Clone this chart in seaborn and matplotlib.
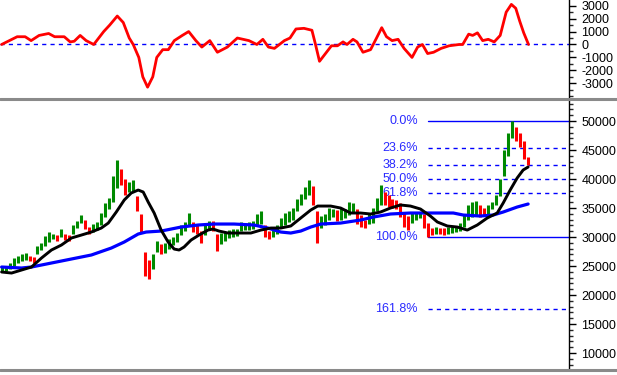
import numpy as np
import matplotlib
matplotlib.use("Agg")
import matplotlib.pyplot as plt
from matplotlib.lines import Line2D
from matplotlib.ticker import MultipleLocator, FixedLocator, FuncFormatter
import seaborn as sns

# ==============================
# Data
# ==============================
# daily price bars, thousands
bar_lo = [24.0, 24.2, 24.5, 25.0, 25.5, 25.8, 26.0, 25.8, 25.5, 27.0,
          27.8, 28.5, 29.2, 29.6, 29.4, 30.0, 29.5, 29.3, 30.5, 31.5,
          32.5, 31.3, 30.5, 30.8, 31.2, 32.0, 33.5, 34.8, 36.0, 38.5,
          39.0, 37.2, 37.8, 38.0, 34.5, 30.9, 23.2, 22.8, 24.5, 27.5,
          27.0, 27.3, 28.0, 28.6, 29.2, 30.4, 31.0, 31.9, 30.8, 30.5,
          29.0, 30.3, 31.2, 31.0, 27.6, 28.8, 29.4, 29.8, 30.0, 30.2,
          31.0, 31.2, 31.2, 31.4, 32.0, 32.2, 30.0, 29.6, 30.0, 30.6,
          31.5, 32.0, 32.6, 33.0, 34.5, 35.5, 36.5, 37.2, 35.5, 29.0,
          31.5, 32.0, 33.0, 33.4, 32.8, 33.0, 33.2, 33.8, 34.2, 32.3,
          31.8, 31.5, 32.2, 32.5, 34.5, 35.5, 35.5, 35.2, 35.0, 34.8,
          33.5, 31.8, 31.2, 32.4, 33.0, 33.2, 31.5, 30.0, 30.3, 30.5,
          30.6, 30.4, 30.6, 30.7, 30.8, 31.0, 31.8, 33.0, 33.5, 33.8,
          33.5, 33.8, 34.0, 34.8, 35.5, 37.0, 40.5, 44.0, 47.0, 46.5,
          45.5, 43.5, 42.5]
bar_hi = [24.8, 25.0, 25.5, 26.3, 26.8, 27.0, 27.2, 26.8, 26.6, 28.4,
          29.0, 30.2, 30.8, 30.6, 30.4, 31.4, 30.6, 30.3, 32.0, 32.8,
          33.8, 33.0, 31.8, 32.2, 32.6, 34.2, 35.8, 36.7, 40.5, 43.2,
          41.7, 40.0, 39.5, 39.8, 37.0, 34.0, 27.5, 26.0, 27.0, 29.3,
          28.8, 28.9, 29.6, 30.0, 30.7, 32.1, 32.6, 34.2, 32.6, 32.0,
          31.0, 32.2, 32.8, 32.8, 30.5, 30.7, 30.8, 31.2, 31.4, 31.4,
          32.6, 32.4, 32.6, 32.8, 34.0, 34.5, 32.0, 31.0, 31.4, 32.0,
          33.2, 34.2, 34.5, 35.0, 36.5, 37.5, 38.6, 39.8, 38.8, 34.5,
          33.7, 34.0, 35.0, 34.8, 34.6, 35.0, 34.8, 36.0, 35.8, 34.8,
          33.8, 33.0, 34.0, 35.0, 36.8, 39.0, 37.8, 37.2, 36.5, 36.4,
          35.8, 34.2, 33.6, 34.2, 34.3, 34.4, 34.0, 32.5, 31.6, 31.8,
          31.6, 31.5, 31.7, 31.8, 31.9, 32.5, 34.0, 35.5, 36.0, 36.2,
          35.5, 35.0, 35.6, 36.0, 37.2, 40.0, 45.0, 48.0, 50.0, 49.0,
          48.0, 46.5, 43.8]

# black (short) moving average
ma_fast_day = [0, 2.5, 5, 7.5, 10, 12.5, 15, 17.5, 20, 22.5,
               25, 26.75, 28.75, 30.75, 32.5, 34.25, 35.5, 36.75, 38.25, 40,
               41.75, 43.25, 44.5, 45.75, 47.5, 49.5, 51.75, 53, 54.5, 56.75,
               59.25, 62.5, 65, 67.5, 70, 72.5, 75, 77.5, 79.25, 82.5,
               85, 87.5, 90, 92.5, 95, 97.5, 100, 102.5, 105, 107.5,
               109.25, 111.75, 114.25, 116.75, 119.25, 121.75, 124.25, 125.75, 127.5, 129.25,
               130.75, 132]
ma_fast_val = [23.97, 23.79, 24.31, 24.83, 26.38, 27.76, 28.62, 29.83, 30.34, 30.86,
               31.55, 32.41, 34.31, 36.38, 37.59, 38.1, 37.76, 36.03, 34.14, 31.2,
               29.14, 27.93, 27.76, 28.28, 29.48, 30.34, 31.2, 31.38, 31.03, 30.69,
               30.69, 30.69, 31.2, 31.55, 31.55, 31.9, 33.28, 34.65, 35.34, 35.34,
               35.0, 34.14, 34.14, 33.97, 34.31, 35.0, 35.52, 35.34, 34.83, 33.62,
               32.59, 31.9, 31.72, 31.2, 32.07, 33.28, 34.14, 35.86, 38.1, 40.17,
               41.55, 42.07]

# blue (long) moving average
ma_slow_day = [0, 5, 7.5, 12.5, 17.5, 22.5, 27.5, 30.75, 34.25, 36.25,
               40, 45, 49.25, 53.25, 58.25, 63.25, 66.75, 70, 72.5, 75,
               77.5, 80, 85, 90, 93.25, 97.5, 102.5, 109.25, 113.25, 115.75,
               120, 123.25, 125.75, 129.25, 132]
ma_slow_val = [24.83, 24.66, 24.83, 25.52, 26.21, 26.9, 28.1, 29.14, 30.52, 30.86,
               31.03, 31.72, 32.07, 32.24, 32.24, 32.07, 31.55, 30.86, 30.69, 31.03,
               31.72, 32.24, 32.41, 32.93, 33.45, 33.97, 34.14, 34.14, 34.14, 33.79,
               33.62, 33.79, 34.31, 35.17, 35.69]

# oscillator (top panel)
osc_day = [0, 3.9, 5.9, 7.4, 9.4, 11.8, 13.3, 15.7, 17.2, 18.2,
           19.7, 21.2, 23.1, 25.6, 27.1, 29.0, 30.5, 32.0, 33.0, 34.4,
           35.4, 36.6, 37.9, 38.9, 40.4, 41.8, 43.3, 45.3, 46.9, 48.7,
           50.2, 52.2, 54.1, 56.6, 59.1, 62.0, 64.0, 65.5, 66.9, 68.4,
           70.9, 72.3, 73.8, 75.8, 77.8, 78.7, 79.7, 81.2, 82.7, 84.2,
           85.6, 86.6, 88.1, 89.1, 90.6, 92.5, 94.0, 95.3, 96.5, 97.9,
           99.4, 100.9, 102.9, 104.3, 105.5, 106.8, 108.3, 110.2, 112.2, 114.7,
           115.6, 117.1, 118.1, 119.3, 120.6, 122.0, 123.5, 125.0, 126.5, 127.8,
           128.9, 129.9, 130.9, 132.1]
osc_val = [0, 600, 600, 300, 700, 850, 600, 600, 200, 250,
           700, 300, 0, 1000, 1500, 2200, 1700, 500, 0, -1000,
           -2500, -3300, -2500, -1000, -400, -400, 300, 700, 1000, 300,
           -200, 300, -600, -200, 500, 300, 0, 400, -200, -300,
           300, 500, 1200, 1250, 1100, 0, -1300, -700, -100, -100,
           200, 0, 400, 200, -600, -400, 500, 1300, 600, 300,
           400, -300, -1000, -200, 0, -700, -600, -300, -100, 0,
           0, 800, 700, 900, 300, 400, 200, 700, 2500, 3100,
           2800, 1800, 900, 0]
osc_ticks = [-3000, -2000, -1000, 0, 1000, 2000, 3000]

# fibonacci retracement levels
fib_labels = ["0.0%", "23.6%", "38.2%", "50.0%", "61.8%", "100.0%", "161.8%"]
fib_levels = [50000, 45280, 42360, 40000, 37640, 30000, 17640]
fib_dashed = [False, True, True, True, True, False, True]
fib_start_day = 107

# ==============================
# Style
# ==============================
sns.set_style("white")
plt.rcParams["font.family"] = ["Liberation Sans", "DejaVu Sans"]
plt.rcParams["axes.unicode_minus"] = False

GREEN = "#008a00"
RED = "#ff0000"
BLUE = "#0000ff"
FIB_TXT = "#2a2aff"
X_MAX = 142.25

fig = plt.figure(figsize=(6.17, 3.75), dpi=100)
ax_osc = fig.add_axes([0, 1 - 97 / 375, 569 / 617, 97 / 375])
ax_px = fig.add_axes([0, 7 / 375, 569 / 617, 267 / 375])

int_fmt = FuncFormatter(lambda v, p: f"{int(round(v))}")
for ax in (ax_osc, ax_px):
    ax.set_xlim(-0.4, X_MAX)
    for side in ("left", "top", "bottom"):
        ax.spines[side].set_visible(False)
    ax.spines["right"].set_color("black")
    ax.spines["right"].set_linewidth(1)
    ax.yaxis.tick_right()
    ax.set_xticks([])
    ax.yaxis.set_major_formatter(int_fmt)
    ax.tick_params(axis="y", which="major", length=5, width=1, pad=4,
                   labelsize=9, colors="black", direction="out")
    ax.tick_params(axis="y", which="minor", length=3, width=1, direction="out")
    ax.set_facecolor("white")

# ==============================
# Top: oscillator
# ==============================
ax_osc.axhline(0, color=BLUE, lw=1, ls=(0, (3, 3)), zorder=1)
sns.lineplot(x=osc_day, y=osc_val, ax=ax_osc, color=RED, linewidth=2.0,
             sort=False, zorder=3)
ax_osc.set_ylim(-4060, 3440)
ax_osc.yaxis.set_major_locator(FixedLocator(osc_ticks))
ax_osc.yaxis.set_minor_locator(MultipleLocator(500))
ax_osc.set_ylabel("")

# ==============================
# Bottom: price bars, MAs, fib levels
# ==============================
lo = np.array(bar_lo) * 1000
hi = np.array(bar_hi) * 1000
day = np.arange(len(lo))
mid = (lo + hi) / 2
cols = [GREEN] + [GREEN if mid[i] >= mid[i - 1] else RED for i in range(1, len(mid))]
ax_px.vlines(day, lo, hi, colors=cols, linewidth=2.2, zorder=3)

sns.lineplot(x=ma_slow_day, y=np.array(ma_slow_val) * 1000, ax=ax_px,
             color=BLUE, linewidth=2.3, zorder=4)
sns.lineplot(x=ma_fast_day, y=np.array(ma_fast_val) * 1000, ax=ax_px,
             color="black", linewidth=2.1, zorder=4)

for lab, lvl, dashed in zip(fib_labels, fib_levels, fib_dashed):
    ax_px.plot([fib_start_day, X_MAX], [lvl, lvl], color=BLUE, lw=1,
               ls=(0, (3, 3)) if dashed else "-", zorder=1)
    ax_px.text(fib_start_day - 2.6, lvl, lab, color=FIB_TXT, fontsize=9,
               ha="right", va="center", zorder=1)

ax_px.set_ylim(7420, 53450)
ax_px.yaxis.set_major_locator(MultipleLocator(5000))
ax_px.yaxis.set_minor_locator(MultipleLocator(1000))
ax_px.set_xlabel("")
ax_px.set_ylabel("")

# panel separators
for ypix in (98.5, 369.5):
    yf = 1 - ypix / 375
    fig.add_artist(Line2D([0, 1], [yf, yf], transform=fig.transFigure,
                          color="#8a8a8a", lw=2.2))

fig.savefig("out.png", dpi=100)
plt.close(fig)
